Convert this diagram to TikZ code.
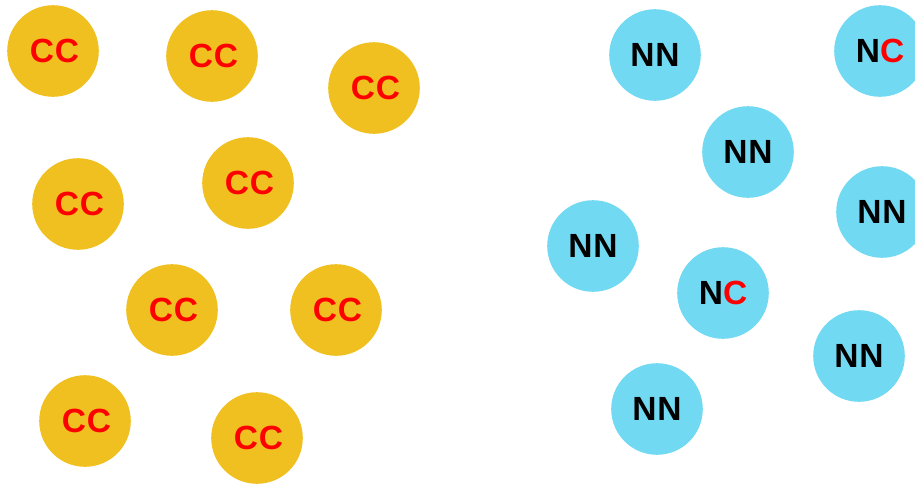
\documentclass[tikz,border=0pt]{standalone}
\usepackage{fontspec}
\setmainfont{Liberation Sans}
\newfontfamily\ballfont[LetterSpace=3]{Liberation Sans}
\definecolor{goldc}{HTML}{F0C020}
\definecolor{bluec}{HTML}{72D9F2}
\definecolor{redt}{HTML}{FF0000}
\begin{document}
\begin{tikzpicture}[x=1pt,y=-1pt,
  ball/.style={circle,minimum size=91.6pt,inner sep=0pt,
    font=\ballfont\fontsize{33.5}{33.5}\selectfont\bfseries},
  cball/.style={ball,fill=goldc,text=redt},
  nball/.style={ball,fill=bluec,text=black}]
\useasboundingbox (0,0) rectangle (915,483);
\clip (0,0) rectangle (915,483);
% gold
\node[cball] (c1) at (53,51) {\hspace{3pt}CC};
\node[cball] (c2) at (212,56) {\hspace{3pt}CC};
\node[cball] (c3) at (374,88) {\hspace{3pt}CC};
\node[cball] (c4) at (78,204) {\hspace{3pt}CC};
\node[cball] (c5) at (248,183) {\hspace{3pt}CC};
\node[cball] (c6) at (172,310) {\hspace{3pt}CC};
\node[cball] (c7) at (336,310) {\hspace{3pt}CC};
\node[cball] (c8) at (85,421) {\hspace{3pt}CC};
\node[cball] (c9) at (257,438) {\hspace{3pt}CC};
% blue
\node[nball] (n1) at (655,55) {NN};
\node[nball] (n2) at (880,51) {N\textcolor{redt}{C}};
\node[nball] (n3) at (748,152) {NN};
\node[nball] (n4) at (882,212) {NN};
\node[nball] (n5) at (593,246) {NN};
\node[nball] (n6) at (723,293) {N\textcolor{redt}{C}};
\node[nball] (n7) at (859,356) {NN};
\node[nball] (n8) at (657,409) {NN};
\end{tikzpicture}
\end{document}
